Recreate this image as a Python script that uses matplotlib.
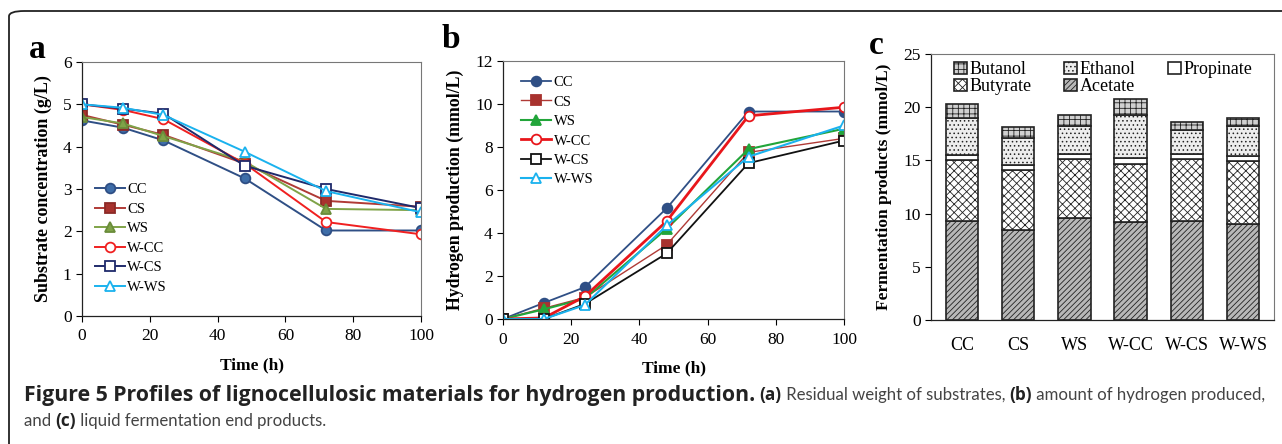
import matplotlib
matplotlib.use("Agg")
import matplotlib.pyplot as plt
from matplotlib.patches import FancyBboxPatch
import numpy as np

# ========================================
# data
# ========================================
time_h = [0, 12, 24, 48, 72, 100]
series_names = ["CC", "CS", "WS", "W-CC", "W-CS", "W-WS"]

substrate = {
    "CC":   [4.62, 4.45, 4.15, 3.25, 2.02, 2.02],
    "CS":   [4.75, 4.52, 4.28, 3.60, 2.72, 2.58],
    "WS":   [4.70, 4.55, 4.25, 3.65, 2.53, 2.50],
    "W-CC": [5.00, 4.87, 4.65, 3.60, 2.22, 1.93],
    "W-CS": [5.00, 4.90, 4.78, 3.55, 3.00, 2.55],
    "W-WS": [5.00, 4.92, 4.75, 3.88, 2.95, 2.45],
}

hydrogen = {
    "CC":   [0.0, 0.75, 1.48, 5.15, 9.65, 9.65],
    "CS":   [0.0, 0.50, 1.00, 3.45, 7.75, 8.40],
    "WS":   [0.0, 0.45, 0.95, 4.20, 7.90, 8.85],
    "W-CC": [0.0, 0.05, 1.05, 4.55, 9.45, 9.85],
    "W-CS": [0.0, 0.00, 0.70, 3.05, 7.25, 8.30],
    "W-WS": [0.0, 0.00, 0.65, 4.35, 7.55, 9.00],
}

substrates = ["CC", "CS", "WS", "W-CC", "W-CS", "W-WS"]
acetate = [9.3, 8.5, 9.6, 9.2, 9.3, 9.0]
butyrate = [5.7, 5.6, 5.5, 5.5, 5.8, 5.9]
propinate = [0.5, 0.5, 0.5, 0.5, 0.5, 0.5]
ethanol = [3.5, 2.5, 2.6, 4.1, 2.3, 2.8]
butanol = [1.3, 1.0, 1.1, 1.5, 0.7, 0.8]

# ========================================
# styles
# ========================================
style_a = {
    "CC":   dict(color="#2F4F85", marker="o", mfc="#3E6DA8", mec="#2F4F85"),
    "CS":   dict(color="#B03A36", marker="s", mfc="#A8322E", mec="#8C2A27"),
    "WS":   dict(color="#7FA348", marker="^", mfc="#7FA348", mec="#6A8C3A"),
    "W-CC": dict(color="#F02020", marker="o", mfc="white", mec="#F02020"),
    "W-CS": dict(color="#1F2A6B", marker="s", mfc="white", mec="#1F2A6B"),
    "W-WS": dict(color="#1AB2EE", marker="^", mfc="white", mec="#1AB2EE"),
}
style_b = {
    "CC":   dict(color="#2F4F85", marker="o", mfc="#2F4F85", mec="#2F4F85", lw=1.3),
    "CS":   dict(color="#B03A36", marker="s", mfc="#A8322E", mec="#A8322E", lw=1.0),
    "WS":   dict(color="#22A53A", marker="^", mfc="#22A53A", mec="#22A53A", lw=1.5),
    "W-CC": dict(color="#E8161B", marker="o", mfc="white", mec="#E8161B", lw=2.0),
    "W-CS": dict(color="#111111", marker="s", mfc="white", mec="#111111", lw=1.3),
    "W-WS": dict(color="#1AB2EE", marker="^", mfc="white", mec="#1AB2EE", lw=1.5),
}

SERIF = ["Liberation Serif", "DejaVu Serif"]
plt.rcParams["font.family"] = SERIF
plt.rcParams["hatch.linewidth"] = 0.6

fig = plt.figure(figsize=(12.82, 4.44), dpi=100)
W, H = 1282, 444


def ax_px(l, t, r, b):
    return fig.add_axes([l / W, 1 - b / H, (r - l) / W, (b - t) / H])


def style_axes(ax):
    for s in ["top", "right"]:
        ax.spines[s].set_color("#777777")
        ax.spines[s].set_linewidth(0.8)
    for s in ["left", "bottom"]:
        ax.spines[s].set_color("#222222")
        ax.spines[s].set_linewidth(0.9)
    ax.tick_params(labelsize=12.5, length=4, width=0.8, direction="out")
    ax.tick_params(axis="x", pad=5)


# border box
border = FancyBboxPatch((9 / W, -0.2), 1.5, 1.2 - 11 / H,
                        boxstyle="round,pad=0,rounding_size=0.012",
                        transform=fig.transFigure, fill=False,
                        edgecolor="#222222", linewidth=1.3, clip_on=False)
fig.patches.append(border)

leg_kw = dict(frameon=False, fontsize=10.5, handlelength=2.1, handletextpad=0.15,
              labelspacing=0.43)

# ========================================
# panel a
# ========================================
ax1 = ax_px(82, 62, 421, 316)
for name in series_names:
    st = style_a[name]
    ax1.plot(time_h, substrate[name], color=st["color"], marker=st["marker"],
             mfc=st["mfc"], mec=st["mec"], ms=7, mew=1.3, lw=1.4, label=name)
ax1.set_xlim(0, 100)
ax1.set_ylim(0, 6)
ax1.set_xticks([0, 20, 40, 60, 80, 100])
ax1.set_yticks(range(0, 7))
style_axes(ax1)
ax1.set_xlabel("Time (h)", fontsize=12.5, fontweight="bold", labelpad=9)
ax1.set_ylabel("Substrate concentration (g/L)", fontsize=13, fontweight="bold", labelpad=8)
ax1.legend(loc="lower left", bbox_to_anchor=(0.02, 0.065), borderaxespad=0, **leg_kw)
fig.text(37 / W, 1 - 50 / H, "a", fontsize=24, fontweight="bold", va="center", ha="center")

# ========================================
# panel b
# ========================================
ax2 = ax_px(503, 61, 844, 319)
for name in series_names:
    st = style_b[name]
    ax2.plot(time_h, hydrogen[name], color=st["color"], marker=st["marker"],
             mfc=st["mfc"], mec=st["mec"], ms=7, mew=1.3, lw=st["lw"], label=name)
ax2.set_xlim(0, 100)
ax2.set_ylim(0, 12)
ax2.set_xticks([0, 20, 40, 60, 80, 100])
ax2.set_yticks(range(0, 13, 2))
style_axes(ax2)
ax2.set_xlabel("Time (h)", fontsize=12.5, fontweight="bold", labelpad=9)
ax2.set_ylabel("Hydrogen production (mmol/L)", fontsize=12.8, fontweight="bold", labelpad=8)
ax2.legend(loc="upper left", bbox_to_anchor=(0.035, 0.965), borderaxespad=0, **leg_kw)
fig.text(451 / W, 1 - 40 / H, "b", fontsize=24, fontweight="bold", va="center", ha="center")

# ========================================
# panel c
# ========================================
ax3 = ax_px(931, 54, 1274, 320)
x = np.arange(len(substrates))
bw = 0.58
layers = [
    ("Acetate", acetate, "#B8B8B8", "//////"),
    ("Butyrate", butyrate, "white", "xxxx"),
    ("Propinate", propinate, "white", ""),
    ("Ethanol", ethanol, "#EDEDED", "...."),
    ("Butanol", butanol, "#D0D0D0", "+++"),
]
bottom = np.zeros(len(substrates))
handles = {}
for name, vals, fc, hatch in layers:
    bars = ax3.bar(x, vals, bw, bottom=bottom, color=fc, hatch=hatch,
                   edgecolor="#222222", linewidth=1.2, label=name)
    handles[name] = bars
    bottom = bottom + np.array(vals)
ax3.set_xlim(-0.55, len(substrates) - 0.45)
ax3.set_ylim(0, 25)
ax3.set_yticks(range(0, 26, 5))
ax3.set_xticks(x)
ax3.set_xticklabels(substrates)
style_axes(ax3)
ax3.tick_params(axis="x", length=0, pad=12, labelsize=13)
ax3.set_ylabel("Fermentation products (mmol/L)", fontsize=12.5, fontweight="bold", labelpad=8)
order = ["Butanol", "Butyrate", "Ethanol", "Acetate", "Propinate"]
ax3.legend([handles[n] for n in order], order, ncol=3, loc="upper left",
           bbox_to_anchor=(0.047, 1.0), borderaxespad=0, frameon=False, fontsize=13,
           handlelength=0.7, handleheight=0.7, handletextpad=0.15,
           columnspacing=1.8, labelspacing=0.0)
fig.text(876 / W, 1 - 45 / H, "c", fontsize=24, fontweight="bold", va="center", ha="center")

# ========================================
# caption
# ========================================
BOLD_CAP = ["Open Sans", "DejaVu Sans"]
REG_CAP = ["Lato", "Open Sans", "DejaVu Sans"]
renderer = fig.canvas.get_renderer()


def caption_line(y_px, parts, x0=24):
    xpos = x0
    for txt, kind in parts:
        if kind == "head":
            t = fig.text(xpos / W, 1 - y_px / H, txt, fontsize=15.3, family=BOLD_CAP,
                         fontweight="bold", color="#222222", va="center")
        elif kind == "bold":
            t = fig.text(xpos / W, 1 - y_px / H, txt, fontsize=12.4, family=BOLD_CAP,
                         fontweight="bold", color="#222222", va="center")
        else:
            t = fig.text(xpos / W, 1 - y_px / H, txt, fontsize=12.1, family=REG_CAP,
                         color="#444444", va="center")
        xpos = t.get_window_extent(renderer).x1


caption_line(395, [("Figure 5 Profiles of lignocellulosic materials for hydrogen production.", "head"),
                   (" ", "reg"), ("(a)", "bold"), (" Residual weight of substrates, ", "reg"),
                   ("(b)", "bold"), (" amount of hydrogen produced,", "reg")])
caption_line(421, [("and ", "reg"), ("(c)", "bold"), (" liquid fermentation end products.", "reg")])

fig.savefig("out.png", dpi=100)
